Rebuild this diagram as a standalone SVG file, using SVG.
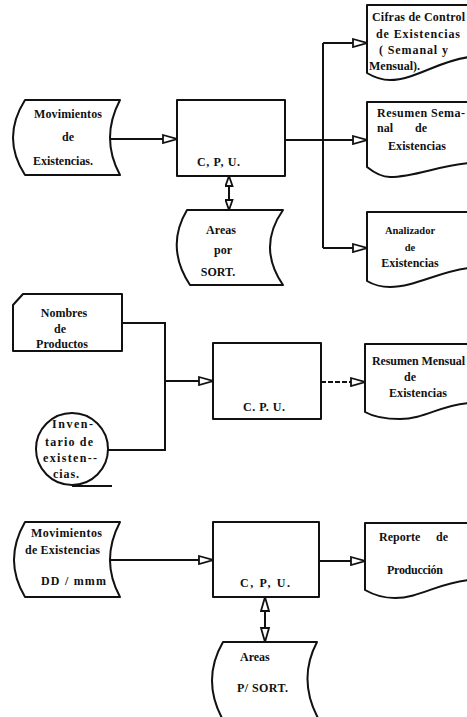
<svg xmlns="http://www.w3.org/2000/svg" width="467" height="717" viewBox="0 0 467 717">
<style>
.sh{fill:#fff;stroke:#111;stroke-width:2;stroke-linejoin:round}
.ln{fill:none;stroke:#111;stroke-width:2}
text{font-family:"Liberation Serif","DejaVu Serif",serif;font-weight:bold;font-size:12px;fill:#111}
.m{text-anchor:middle}
.s{font-size:10.5px}
</style>
<defs>
<marker id="ah" viewBox="0 0 16 10" refX="15" refY="5" markerUnits="userSpaceOnUse" markerWidth="16" markerHeight="10" orient="auto-start-reverse">
<path d="M1,1 L15,5 L1,9 Z" fill="#fff" stroke="#111" stroke-width="1.8"/>
</marker>
<marker id="av" viewBox="0 0 12 9" refX="11" refY="4.5" markerUnits="userSpaceOnUse" markerWidth="12" markerHeight="9" orient="auto-start-reverse">
<path d="M1,1 L11,4.5 L1,8 Z" fill="#fff" stroke="#111" stroke-width="1.8"/>
</marker>
</defs>
<rect width="467" height="717" fill="#fff"/>

<g id="connectors">
<path class="ln" d="M110,139 H177" marker-end="url(#ah)"/>
<path class="ln" d="M285,140 H367" marker-end="url(#ah)"/>
<path class="ln" d="M323,43 V248"/>
<path class="ln" d="M323,43 H367" marker-end="url(#ah)"/>
<path class="ln" d="M323,248 H367" marker-end="url(#ah)"/>
<path class="ln" d="M229,176 V210" marker-start="url(#av)" marker-end="url(#av)"/>
<path class="ln" d="M122,323 H165 V450 H108"/>
<path class="ln" d="M165,381 H213" marker-end="url(#ah)"/>
<path class="ln" d="M321,382 H365" stroke-dasharray="5,2" marker-end="url(#ah)"/>
<path class="ln" d="M110,560 H213" marker-end="url(#ah)"/>
<path class="ln" d="M265,597 V642" marker-start="url(#ah)" marker-end="url(#ah)"/>
<path class="ln" d="M319,561 H365" marker-end="url(#ah)"/>
</g>

<g id="mov1">
<path class="sh" d="M25,100 H120 Q100,138 120,175 H25 Q1,138 25,100 Z"/>
<text x="68" y="118" class="m" textLength="68" lengthAdjust="spacing">Movimientos</text>
<text x="68" y="141" class="m">de</text>
<text x="63" y="165" class="m" textLength="60" lengthAdjust="spacing">Existencias.</text>
</g>

<g id="cpu1">
<rect class="sh" x="177" y="100" width="108" height="76"/>
<text x="197" y="166" textLength="43" lengthAdjust="spacing">C, P, U.</text>
</g>

<g id="areas1">
<path class="sh" d="M187,210 H283 Q257,247 283,285 H190 Q165,247 187,210 Z"/>
<text x="221" y="234" class="m">Areas</text>
<text x="223" y="254" class="m">por</text>
<text x="218" y="276" class="m">SORT.</text>
</g>

<g id="doc1">
<path class="sh" d="M367,5 H470 V57 C440,60 415,80 390,80 C380,80 372,76 367,73 Z"/>
<text x="372" y="21" textLength="93" lengthAdjust="spacing">Cifras de Control</text>
<text x="376" y="38" textLength="84" lengthAdjust="spacing">de  Existencias</text>
<text x="379" y="54" textLength="69" lengthAdjust="spacing">( Semanal y</text>
<text x="369" y="70" textLength="51" lengthAdjust="spacing">Mensual).</text>
</g>

<g id="doc2">
<path class="sh" d="M367,102 H470 V163 C440,165 415,177 390,177 C380,177 372,171 367,167 Z"/>
<text x="377" y="117" textLength="88" lengthAdjust="spacing">Resumen Sema-</text>
<text x="377" y="132">nal</text>
<text x="415" y="132">de</text>
<text x="388" y="150" textLength="58" lengthAdjust="spacing">Existencias</text>
</g>

<g id="doc3">
<path class="sh" d="M367,212 H470 V268 C440,271 415,287 390,287 C380,287 372,284 367,281 Z"/>
<text x="410" y="234" class="m s">Analizador</text>
<text x="410" y="251" class="m s">de</text>
<text x="410" y="267" class="m">Existencias</text>
</g>

<g id="nombres">
<path class="sh" d="M23,294 H122 V351 H13 V305 Z"/>
<text x="64" y="317" class="m">Nombres</text>
<text x="60" y="333" class="m">de</text>
<text x="62" y="348" class="m">Productos</text>
</g>

<g id="inventario">
<circle class="sh" cx="72" cy="449" r="36"/>
<path class="ln" d="M72,486 H112"/>
<text x="52" y="428" textLength="41" lengthAdjust="spacing">Inven-</text>
<text x="45" y="446" textLength="48" lengthAdjust="spacing">tario de</text>
<text x="43" y="462" textLength="54" lengthAdjust="spacing">existen--</text>
<text x="53" y="478" textLength="26" lengthAdjust="spacing">cias.</text>
</g>

<g id="cpu2">
<rect class="sh" x="213" y="343" width="108" height="76"/>
<text x="243" y="411" textLength="42" lengthAdjust="spacing">C. P. U.</text>
</g>

<g id="doc4">
<path class="sh" d="M365,344 H470 V403 C440,405 425,419 400,419 C385,419 372,416 365,412 Z"/>
<text x="372" y="365" textLength="93" lengthAdjust="spacing">Resumen Mensual</text>
<text x="410" y="381" class="m">de</text>
<text x="389" y="397" textLength="58" lengthAdjust="spacing">Existencias</text>
</g>

<g id="mov3">
<path class="sh" d="M25,522 H120 Q100,560 120,597 H25 Q3,560 25,522 Z"/>
<text x="31" y="537" textLength="71" lengthAdjust="spacing">Movimientos</text>
<text x="25" y="554" textLength="75" lengthAdjust="spacing">de Existencias</text>
<text x="41" y="585" textLength="65" lengthAdjust="spacing">DD / mmm</text>
</g>

<g id="cpu3">
<rect class="sh" x="213" y="522" width="106" height="75"/>
<text x="240" y="587" textLength="50" lengthAdjust="spacing">C, P, U.</text>
</g>

<g id="areas3">
<path class="sh" d="M223,642 H317 Q297,680 319,720 H223 Q201,680 223,642 Z"/>
<text x="240" y="661">Areas</text>
<text x="237" y="692" textLength="51" lengthAdjust="spacing">P/ SORT.</text>
</g>

<g id="doc5">
<path class="sh" d="M365,523 H470 V580 C440,582 420,598 395,598 C382,598 372,594 365,590 Z"/>
<text x="379" y="541">Reporte</text>
<text x="436" y="541">de</text>
<text x="387" y="574" textLength="56" lengthAdjust="spacing">Producción</text>
</g>
</svg>
